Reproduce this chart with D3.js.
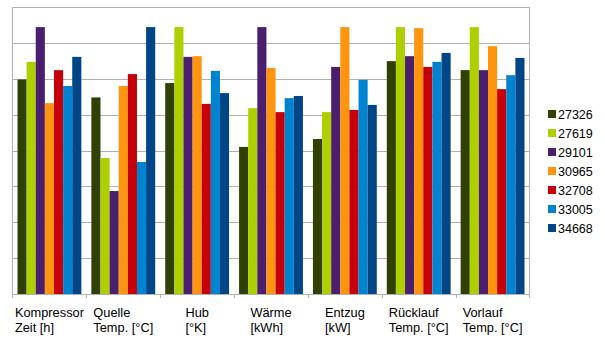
<!DOCTYPE html>
<html><head><meta charset="utf-8">
<script src="https://cdn.jsdelivr.net/npm/d3@7"></script>
<style>body{margin:0;background:#fff}svg{display:block}text{font-family:"Liberation Sans",Arial,sans-serif}</style>
</head><body>
<svg id="c" width="605" height="340"></svg>
<script>
const categories = [["Kompressor","Zeit [h]"],["Quelle","Temp. [°C]"],["Hub","[°K]"],["Wärme","[kWh]"],["Entzug","[kW]"],["Rücklauf","Temp. [°C]"],["Vorlauf","Temp. [°C]"]];
const seriesNames = ["27326","27619","29101","30965","32708","33005","34668"];
const colors = ["#314004","#aecf00","#4b1f6f","#ff950e","#c5000b","#0084d1","#004586"];
const s27326 = [5.98,5.48,5.88,4.10,4.32,6.49,6.24];
const s27619 = [6.47,3.79,7.44,5.18,5.07,7.44,7.44];
const s29101 = [7.44,2.87,6.61,7.44,6.33,6.63,6.24];
const s30965 = [5.32,5.80,6.63,6.30,7.44,7.41,6.91];
const s32708 = [6.24,6.13,5.30,5.07,5.13,6.33,5.71];
const s33005 = [5.80,3.68,6.22,5.46,5.97,6.47,6.10];
const s34668 = [6.61,7.44,5.60,5.52,5.27,6.72,6.58];
const series = [s27326,s27619,s29101,s30965,s32708,s33005,s34668];
const yTicks = [0,1,2,3,4,5,6,7,8];

const svg = d3.select("#c");
const L=12.5, R=529.5, T=7, B=294;
const x = d3.scaleBand().domain(d3.range(categories.length)).range([L,R]).paddingInner(0).paddingOuter(0);
const xi = d3.scaleBand().domain(d3.range(series.length)).range([5, x.bandwidth()-5]).padding(0);
const y = d3.scaleLinear().domain([0,8]).range([B,T]);
const grid = "#b3b3b3";

svg.append("g").selectAll("line").data(yTicks.slice(1)).join("line")
  .attr("x1",L).attr("x2",R).attr("y1",d=>Math.round(y(d))+0.5).attr("y2",d=>Math.round(y(d))+0.5)
  .attr("stroke",grid).attr("stroke-width",1);

const g = svg.append("g");
series.forEach((vals,si)=>{
  g.selectAll(null).data(vals).join("rect")
    .attr("x",(d,ci)=>x(ci)+xi(si))
    .attr("width",xi.bandwidth())
    .attr("y",d=>y(d))
    .attr("height",d=>B-y(d))
    .attr("fill",colors[si]);
});

// axes lines
svg.append("line").attr("x1",L).attr("x2",L).attr("y1",T).attr("y2",B+4).attr("stroke",grid);
svg.append("line").attr("x1",R).attr("x2",R).attr("y1",T).attr("y2",B+4).attr("stroke",grid);
svg.append("line").attr("x1",L).attr("x2",R).attr("y1",B+0.5).attr("y2",B+0.5).attr("stroke",grid);
svg.append("g").selectAll("line").data(d3.range(1,categories.length)).join("line")
  .attr("x1",d=>Math.round(x(d))+0.5).attr("x2",d=>Math.round(x(d))+0.5).attr("y1",B).attr("y2",B+4).attr("stroke",grid);

// category labels: left-aligned lines, block centered
categories.forEach((lines,ci)=>{
  const t = svg.append("text").attr("font-size","12.8px").attr("fill","#000");
  lines.forEach((ln,li)=>{
    t.append("tspan").attr("y",317+li*15).text(ln);
  });
  const w = d3.max(t.selectAll("tspan").nodes(), n=>n.getComputedTextLength());
  const x0 = x(ci)+x.bandwidth()/2 - w/2;
  t.selectAll("tspan").attr("x",x0);
});

// legend
const lg = svg.append("g");
seriesNames.forEach((n,i)=>{
  const yy = 110 + i*19;
  lg.append("rect").attr("x",548).attr("y",yy).attr("width",8).attr("height",8).attr("fill",colors[i]);
  lg.append("text").attr("x",558).attr("y",yy+9).attr("font-size","12.5px").attr("fill","#000").text(n);
});
</script>
</body></html>
